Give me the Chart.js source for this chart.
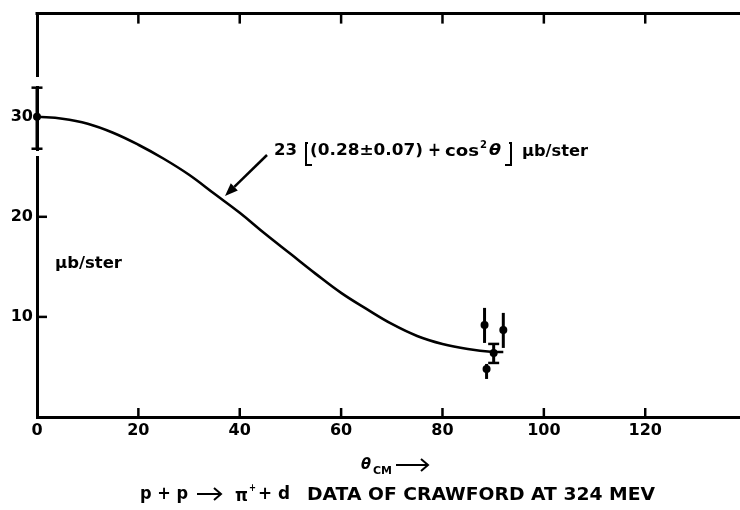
<!DOCTYPE html>
<html>
<head>
<meta charset="utf-8">
<script src="https://cdn.jsdelivr.net/npm/chart.js@4.4.1/dist/chart.umd.min.js"></script>
<style>
html,body{margin:0;padding:0;background:#fff;}
#wrap{width:740px;height:510px;position:relative;}
</style>
</head>
<body>
<div id="wrap"><canvas id="c" width="740" height="510"></canvas></div>
<script>
// ---- data ----
const curveTheta = [0, 5, 10, 15, 20, 25, 30, 35, 40, 45, 50, 55, 60, 65, 70, 75, 80, 85, 90, 92];
const curveValue = [30.0, 29.8, 29.3, 28.4, 27.2, 25.8, 24.2, 22.3, 20.4, 18.3, 16.3, 14.3, 12.4, 10.8, 9.3, 8.1, 7.3, 6.8, 6.5, 6.5];

const pointTheta = [0, 88.3, 92.0, 90.1, 88.7];
const pointValue = [30.0, 9.2, 8.7, 6.4, 4.8];
const errLow     = [26.8, 7.4, 6.9, 5.4, 3.8];
const errHigh    = [32.9, 10.9, 10.4, 7.3, 5.3];
const errCap     = [true, false, false, true, false];

const xTicks = [0, 20, 40, 60, 80, 100, 120];
const yTicks = [10, 20, 30];

const FONT = '"DejaVu Sans", "Liberation Sans", sans-serif';

function fitText(ctx, txt, x1, yMid, x2, size, italic) {
  ctx.save();
  ctx.font = (italic ? 'italic ' : '') + 'bold ' + size + 'px ' + FONT;
  ctx.textBaseline = 'middle';
  ctx.textAlign = 'left';
  const w = ctx.measureText(txt).width;
  const sx = (x2 - x1) / w;
  ctx.translate(x1, yMid);
  ctx.scale(sx, 1);
  ctx.fillText(txt, 0, 0);
  ctx.restore();
}
function arrowLine(ctx, x1, y1, x2, y2, headLen, headW, lw) {
  ctx.save();
  ctx.lineWidth = lw;
  ctx.strokeStyle = '#000';
  ctx.fillStyle = '#000';
  const a = Math.atan2(y2 - y1, x2 - x1);
  const bx = x2 - headLen * Math.cos(a), by = y2 - headLen * Math.sin(a);
  ctx.beginPath(); ctx.moveTo(x1, y1); ctx.lineTo(bx, by); ctx.stroke();
  ctx.beginPath();
  ctx.moveTo(x2, y2);
  ctx.lineTo(bx + headW / 2 * Math.sin(a), by - headW / 2 * Math.cos(a));
  ctx.lineTo(bx - headW / 2 * Math.sin(a), by + headW / 2 * Math.cos(a));
  ctx.closePath(); ctx.fill();
  ctx.restore();
}

const decor = {
  id: 'decor',
  beforeDatasetsDraw(chart) {
    const ctx = chart.ctx, xs = chart.scales.x, ys = chart.scales.y, ca = chart.chartArea;
    ctx.save();
    ctx.strokeStyle = '#000';
    // top frame line
    ctx.lineWidth = 3;
    ctx.beginPath(); ctx.moveTo(ca.left - 1.5, ca.top); ctx.lineTo(740, ca.top); ctx.stroke();
    // inward ticks
    ctx.lineWidth = 2.5;
    xTicks.forEach(v => {
      if (v === 0) return;
      const px = xs.getPixelForValue(v);
      ctx.beginPath(); ctx.moveTo(px, ca.bottom); ctx.lineTo(px, ca.bottom - 9); ctx.stroke();
      ctx.beginPath(); ctx.moveTo(px, ca.top); ctx.lineTo(px, ca.top + 10); ctx.stroke();
    });
    yTicks.forEach(v => {
      if (v === 30) return;
      const py = ys.getPixelForValue(v);
      ctx.beginPath(); ctx.moveTo(ca.left, py); ctx.lineTo(ca.left + 10, py); ctx.stroke();
    });
    // error bars
    pointTheta.forEach((t, i) => {
      const px = xs.getPixelForValue(t);
      const yl = ys.getPixelForValue(errLow[i]), yh = ys.getPixelForValue(errHigh[i]);
      if (i === 0) {
        // small gaps in the axis just outside the caps, as in the reference
        ctx.clearRect(px - 3, yh - 11, 6, 9);
        ctx.clearRect(px - 3, yl + 2, 6, 5);
      }
      ctx.lineWidth = 3;
      ctx.beginPath(); ctx.moveTo(px, yl); ctx.lineTo(px, yh); ctx.stroke();
      if (errCap[i]) {
        ctx.lineWidth = 2.5;
        ctx.beginPath(); ctx.moveTo(px - 5.5, yl); ctx.lineTo(px + 5.5, yl); ctx.stroke();
        ctx.beginPath(); ctx.moveTo(px - 5.5, yh); ctx.lineTo(px + 5.5, yh); ctx.stroke();
      }
    });
    ctx.restore();
  },
  afterDraw(chart) {
    const ctx = chart.ctx;
    ctx.save();
    ctx.fillStyle = '#000';
    ctx.strokeStyle = '#000';
    // y unit label
    fitText(ctx, 'μb/ster', 55, 264, 122, 16);
    // formula annotation
    fitText(ctx, '23', 274, 151, 297, 16);
    ctx.lineWidth = 2;
    ctx.beginPath(); ctx.moveTo(308, 143); ctx.lineTo(306, 143); ctx.lineTo(306, 165); ctx.lineTo(312, 165); ctx.stroke();
    fitText(ctx, '(0.28±0.07)', 310, 151, 423, 16);
    fitText(ctx, '+', 428, 151, 441, 19);
    fitText(ctx, 'cos', 445, 152, 479, 16);
    fitText(ctx, '2', 480, 145, 487, 10);
    fitText(ctx, 'θ', 489, 151, 501, 16, true);
    ctx.beginPath(); ctx.moveTo(509, 143); ctx.lineTo(511, 143); ctx.lineTo(511, 165); ctx.lineTo(505, 165); ctx.stroke();
    fitText(ctx, 'μb/ster', 522, 152, 588, 16);
    arrowLine(ctx, 267, 155, 225, 196, 13, 10, 2.5);
    // x axis title
    fitText(ctx, 'θ', 361, 465, 371, 16, true);
    fitText(ctx, 'CM', 373, 471, 392, 10);
    ctx.lineWidth = 2;
    ctx.beginPath(); ctx.moveTo(396, 465); ctx.lineTo(428, 465); ctx.stroke();
    ctx.beginPath(); ctx.moveTo(421, 459); ctx.lineTo(428, 465); ctx.lineTo(421, 471); ctx.stroke();
    // bottom caption
    fitText(ctx, 'p + p', 140, 494, 188, 18);
    ctx.beginPath(); ctx.moveTo(197, 494); ctx.lineTo(221, 494); ctx.stroke();
    ctx.beginPath(); ctx.moveTo(214, 488); ctx.lineTo(221, 494); ctx.lineTo(214, 500); ctx.stroke();
    fitText(ctx, 'π', 235, 497, 248, 17);
    fitText(ctx, '+', 249, 488, 256, 11);
    fitText(ctx, '+ d', 258, 494, 290, 18);
    fitText(ctx, 'DATA OF CRAWFORD AT 324 MEV', 307, 495, 655, 18);
    ctx.restore();
  }
};

const chart = new Chart(document.getElementById('c'), {
  type: 'scatter',
  data: {
    datasets: [
      {
        label: 'fit',
        data: curveTheta.map((t, i) => ({ x: t, y: curveValue[i] })),
        showLine: true,
        borderColor: '#000',
        borderWidth: 2.6,
        pointRadius: 0,
        tension: 0.4,
        fill: false,
        clip: false
      },
      {
        label: 'data',
        data: pointTheta.map((t, i) => ({ x: t, y: pointValue[i] })),
        showLine: false,
        pointRadius: 4,
        pointBackgroundColor: '#000',
        pointBorderColor: '#000',
        pointBorderWidth: 0,
        clip: false
      }
    ]
  },
  options: {
    responsive: false,
    animation: false,
    devicePixelRatio: 1,
    layout: { autoPadding: false, padding: { top: 13, right: 0, left: 0, bottom: 0 } },
    plugins: { legend: { display: false }, tooltip: { enabled: false }, title: { display: false } },
    scales: {
      x: {
        type: 'linear',
        min: 0, max: 138.7,
        afterBuildTicks: s => { s.ticks = xTicks.map(v => ({ value: v })); },
        afterFit: s => { s.height = 93; s.paddingLeft = 0; s.paddingRight = 0; },
        ticks: { color: '#000', font: { family: FONT, size: 16, weight: 'bold' }, padding: 4, maxRotation: 0, autoSkip: false },
        grid: { display: false, drawTicks: false },
        border: { display: true, color: '#000', width: 3 }
      },
      y: {
        type: 'linear',
        min: 0, max: 40.3,
        afterBuildTicks: s => { s.ticks = yTicks.map(v => ({ value: v })); },
        afterFit: s => { s.width = 37; },
        ticks: { color: '#000', font: { family: FONT, size: 16, weight: 'bold' }, padding: 4 },
        grid: { display: false, drawTicks: false },
        border: { display: true, color: '#000', width: 3 }
      }
    }
  },
  plugins: [decor]
});
</script>
</body>
</html>
